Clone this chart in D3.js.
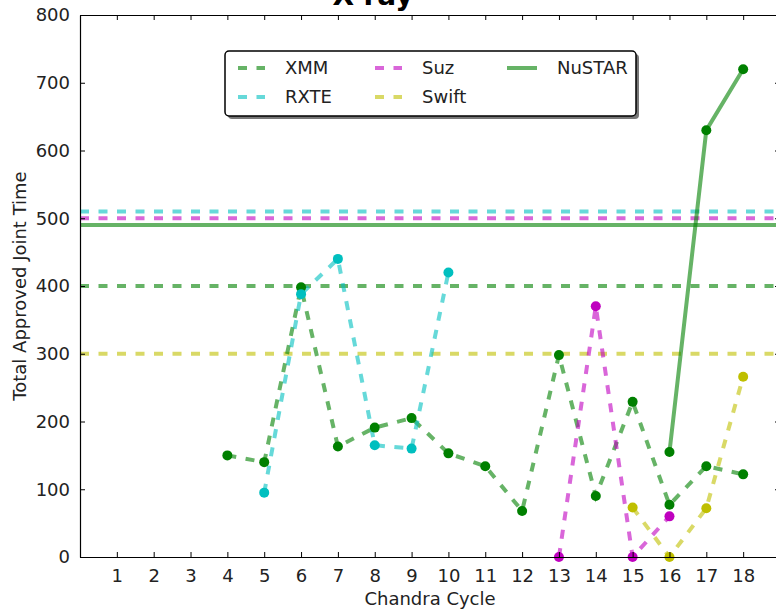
<!DOCTYPE html>
<html>
<head>
<meta charset="utf-8">
<script src="https://cdnjs.cloudflare.com/ajax/libs/d3/7.8.5/d3.min.js"></script>
<style>
  body { margin: 0; background: #fff; }
  svg { display: block; font-family: "DejaVu Sans", sans-serif; }
</style>
</head>
<body>
<div id="chartDiv"></div>
<script>
// chandra cycles on the x axis
var cycles = d3.range(1, 19);
var yTicks = [0, 100, 200, 300, 400, 500, 600, 700, 800];

// joint time per cycle
var xmmCycles = [4, 5, 6, 7, 8, 9, 10, 11, 12, 13, 14, 15, 16, 17, 18];
var xmmValues = [150, 140, 398, 163, 191, 205, 153, 134, 68, 298, 90, 229, 77, 134, 122];
var rxteCycles = [5, 6, 7, 8, 9, 10];
var rxteValues = [95, 388, 440, 165, 160, 420];
var suzCycles = [13, 14, 15, 16];
var suzValues = [0, 370, 0, 60];
var swiftCycles = [15, 16, 17, 18];
var swiftValues = [73, 0, 72, 266];
var nustarCycles = [16, 17, 18];
var nustarValues = [155, 630, 720];

// limits (horizontal lines)
var limits = [
  {name: "RXTE", value: 510},
  {name: "Suz", value: 500},
  {name: "NuSTAR", value: 490},
  {name: "XMM", value: 400},
  {name: "Swift", value: 300}
];

var colors = {XMM: "#008000", RXTE: "#00bfbf", Suz: "#bf00bf", Swift: "#bfbf00", NuSTAR: "#008000"};
var dashed = {XMM: true, RXTE: true, Suz: true, Swift: true, NuSTAR: false};

var series = [
  {name: "XMM", x: xmmCycles, y: xmmValues},
  {name: "RXTE", x: rxteCycles, y: rxteValues},
  {name: "Suz", x: suzCycles, y: suzValues},
  {name: "Swift", x: swiftCycles, y: swiftValues},
  {name: "NuSTAR", x: nustarCycles, y: nustarValues}
];

var svg = d3.select("#chartDiv").append("svg").attr("width", 776).attr("height", 612),
  margin = {top: 15, right: -4, bottom: 55, left: 80},
  width = 776 - margin.left - margin.right,
  height = 612 - margin.top - margin.bottom,
  g = svg.append("g").attr("transform", "translate(" + margin.left + "," + margin.top + ")");

var x = d3.scaleLinear().domain([0, 19]).range([0, width]);
var y = d3.scaleLinear().domain([0, 800]).range([height, 0]);

var DASH = "9,9.5";

// horizontal limit lines
g.selectAll(".limit")
  .data(limits)
  .enter().append("line")
  .attr("class", "limit")
  .attr("x1", 0)
  .attr("x2", width)
  .attr("y1", function (d) { return y(d.value); })
  .attr("y2", function (d) { return y(d.value); })
  .attr("stroke", function (d) { return colors[d.name]; })
  .attr("stroke-opacity", 0.6)
  .attr("stroke-width", 4)
  .attr("stroke-dasharray", function (d) { return dashed[d.name] ? DASH : null; });

var line = d3.line()
  .x(function (d) { return x(d[0]); })
  .y(function (d) { return y(d[1]); });

series.forEach(function (s) {
  var pts = s.x.map(function (c, i) { return [c, s.y[i]]; });
  g.append("path")
    .datum(pts)
    .attr("fill", "none")
    .attr("stroke", colors[s.name])
    .attr("stroke-opacity", 0.6)
    .attr("stroke-width", 4)
    .attr("stroke-dasharray", dashed[s.name] ? DASH : null)
    .attr("d", line);
});

series.forEach(function (s) {
  g.selectAll(".pt-" + s.name)
    .data(s.x.map(function (c, i) { return [c, s.y[i]]; }))
    .enter().append("circle")
    .attr("class", "pt-" + s.name)
    .attr("cx", function (d) { return x(d[0]); })
    .attr("cy", function (d) { return y(d[1]); })
    .attr("r", 5)
    .attr("fill", colors[s.name]);
});

// axes, matplotlib classic style: inward ticks on all four sides
var axisBottom = g.append("g")
  .attr("transform", "translate(0," + height + ")")
  .call(d3.axisBottom(x).tickValues(cycles).tickSizeInner(-5).tickSizeOuter(0).tickPadding(12));
var axisTop = g.append("g")
  .call(d3.axisTop(x).tickValues(cycles).tickSizeInner(-5).tickSizeOuter(0).tickFormat(""));
var axisLeft = g.append("g")
  .call(d3.axisLeft(y).tickValues(yTicks).tickSizeInner(-5).tickSizeOuter(0).tickPadding(10));
var axisRight = g.append("g")
  .attr("transform", "translate(" + width + ",0)")
  .call(d3.axisRight(y).tickValues(yTicks).tickSizeInner(-5).tickSizeOuter(0).tickFormat(""));

[axisBottom, axisTop, axisLeft, axisRight].forEach(function (a) {
  a.select(".domain").attr("stroke", "#000").attr("stroke-width", 1.2);
  a.selectAll(".tick line").attr("stroke", "#000");
  a.selectAll("text").attr("font-size", 18).attr("fill", "#222").attr("font-family", "DejaVu Sans");
});

// titles
svg.append("text")
  .attr("x", 373)
  .attr("y", 5)
  .attr("text-anchor", "middle")
  .attr("font-size", 28)
  .attr("font-weight", "bold")
  .text("X-ray");

svg.append("text")
  .attr("x", margin.left + width / 2)
  .attr("y", 605)
  .attr("text-anchor", "middle")
  .attr("font-size", 18)
  .attr("fill", "#222")
  .text("Chandra Cycle");

svg.append("text")
  .attr("transform", "translate(26," + (margin.top + height / 2) + ") rotate(-90)")
  .attr("text-anchor", "middle")
  .attr("font-size", 18)
  .attr("fill", "#222")
  .text("Total Approved Joint Time");

// legend
var legend = svg.append("g").attr("transform", "translate(225,51)");
legend.append("rect")
  .attr("x", 3).attr("y", 3).attr("width", 411).attr("height", 65).attr("rx", 4)
  .attr("fill", "#777");
legend.append("rect")
  .attr("width", 411).attr("height", 65).attr("rx", 4)
  .attr("fill", "#fff").attr("stroke", "#000").attr("stroke-width", 1.5);

var legendItems = [
  {name: "XMM", col: 0, row: 0},
  {name: "RXTE", col: 0, row: 1},
  {name: "Suz", col: 1, row: 0},
  {name: "Swift", col: 1, row: 1},
  {name: "NuSTAR", col: 2, row: 0}
];
var colX = [13, 150, 282];

var item = legend.selectAll(".item")
  .data(legendItems)
  .enter().append("g")
  .attr("class", "item")
  .attr("transform", function (d) { return "translate(" + colX[d.col] + "," + (17 + d.row * 29) + ")"; });

item.append("line")
  .attr("x1", 0).attr("x2", function (d) { return dashed[d.name] ? 27 : 30; })
  .attr("y1", 0).attr("y2", 0)
  .attr("stroke", function (d) { return colors[d.name]; })
  .attr("stroke-opacity", 0.6)
  .attr("stroke-width", 4)
  .attr("stroke-dasharray", function (d) { return dashed[d.name] ? DASH : null; });

item.append("text")
  .attr("x", function (d) { return d.col === 2 ? 50 : 47; })
  .attr("y", 0)
  .attr("dy", "0.35em")
  .attr("font-size", 18)
  .attr("fill", "#222")
  .text(function (d) { return d.name; });
</script>
</body>
</html>
